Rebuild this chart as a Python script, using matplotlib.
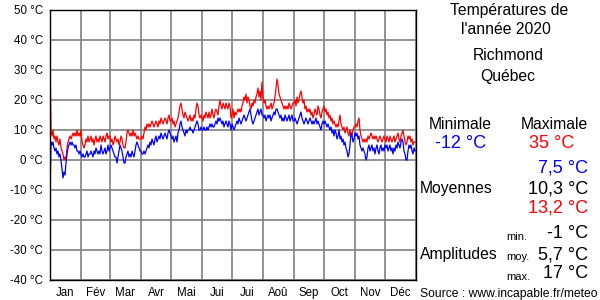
import numpy as np
import matplotlib
matplotlib.use("Agg")
import matplotlib.pyplot as plt

plt.rcParams["font.family"] = ["Liberation Sans", "DejaVu Sans"]

# Daily maximum temperatures (°C), per month
tmax_jan = [35, 10, 8, 10, 7, 8, 6, 8, 6, 5, 7, 4, 3, 2, 0, 1, 0, 4, 6, 7,
            8, 7, 8, 9, 8, 9, 8, 10, 8, 9, 8]
tmax_feb = [10, 6, 5, 4, 5, 7, 6, 8, 6, 7, 8, 6, 7, 5, 7, 8, 6, 7, 6, 8,
            7, 6, 8, 7, 6, 8, 9, 7, 8]
tmax_mar = [8, 6, 7, 5, 6, 8, 7, 6, 7, 5, 6, 8, 7, 5, 4, 4, 6, 9, 10, 9,
            8, 9, 8, 10, 8, 9, 8, 7, 8, 7, 7]
tmax_apr = [7, 8, 7, 9, 11, 10, 12, 11, 12, 11, 12, 13, 12, 11, 12, 13, 12, 11, 13, 12,
            14, 13, 12, 13, 14, 13, 12, 14, 15, 13]
tmax_may = [13, 14, 12, 13, 11, 12, 13, 14, 16, 18, 19, 17, 15, 14, 16, 15, 14, 13, 14, 15,
            13, 14, 13, 15, 14, 17, 19, 18, 15, 14, 15]
tmax_jun = [14, 13, 15, 14, 16, 15, 14, 16, 14, 15, 17, 15, 14, 16, 17, 16, 15, 18, 20, 18,
            17, 19, 18, 17, 19, 18, 17, 19, 18, 14]
tmax_jul = [15, 17, 14, 16, 15, 16, 17, 16, 17, 16, 18, 19, 21, 20, 22, 19, 21, 20, 18, 17,
            19, 18, 20, 19, 21, 22, 24, 21, 23, 20, 26]
tmax_aug = [21, 19, 20, 18, 17, 18, 17, 18, 19, 17, 18, 19, 21, 24, 27, 25, 22, 21, 20, 19,
            18, 17, 18, 17, 18, 17, 19, 18, 17, 18, 19]
tmax_sep = [19, 20, 18, 21, 19, 20, 22, 23, 21, 19, 20, 17, 18, 16, 17, 16, 17, 15, 16, 14,
            15, 17, 16, 15, 18, 17, 15, 14, 16, 17]
tmax_oct = [18, 16, 17, 15, 16, 14, 15, 13, 14, 12, 13, 12, 11, 12, 11, 13, 15, 12, 11, 10,
            11, 9, 10, 11, 9, 8, 10, 9, 8, 10, 11]
tmax_nov = [11, 12, 11, 13, 14, 10, 8, 7, 6, 7, 6, 7, 6, 8, 7, 8, 9, 8, 7, 8,
            7, 8, 7, 6, 7, 8, 7, 6, 7, 8]
tmax_dec = [7, 6, 8, 7, 6, 8, 7, 6, 7, 8, 6, 7, 8, 9, 7, 6, 8, 9, 10, 8,
            6, 5, 6, 8, 7, 8, 6, 7, 5, 6, 6]

# Daily minimum temperatures (°C), per month
tmin_jan = [-12, 6, 5, 6, 4, 3, 4, 2, 3, 1, 2, 0, -3, -6, -4, -5, -1, 2, 4, 5,
            6, 5, 6, 5, 5, 4, 5, 3, 3, 2, 3]
tmin_feb = [2, 1, 2, 1, 1, 2, 3, 1, 2, 2, 3, 2, 1, 3, 2, 4, 3, 2, 3, 2,
            5, 3, 2, 3, 4, 2, 3, 5, 3]
tmin_mar = [4, 5, 4, 3, 2, 1, 1, -1, 1, 3, 5, 4, 3, 1, -1, -1, 1, 2, 3, 1,
            2, 1, 3, 2, 1, 3, 5, 6, 5, 4, 3]
tmin_apr = [3, 2, 2, 3, 2, 3, 4, 5, 4, 6, 5, 7, 6, 5, 7, 8, 6, 7, 8, 7,
            9, 8, 7, 8, 9, 8, 7, 9, 10, 9]
tmin_may = [8, 7, 8, 6, 7, 8, 6, 9, 10, 12, 13, 11, 10, 9, 8, 10, 9, 10, 10, 11,
            10, 10, 9, 10, 11, 12, 13, 12, 10, 10, 11]
tmin_jun = [10, 10, 11, 10, 10, 11, 10, 11, 12, 11, 12, 11, 11, 12, 13, 12, 14, 13, 14, 13,
            12, 13, 11, 12, 13, 12, 11, 13, 12, 10]
tmin_jul = [12, 11, 10, 11, 12, 13, 12, 14, 13, 12, 13, 14, 15, 14, 13, 14, 15, 16, 17, 15,
            13, 12, 13, 14, 15, 16, 17, 15, 16, 17, 15]
tmin_aug = [15, 14, 15, 13, 14, 15, 14, 15, 13, 14, 15, 16, 15, 17, 17, 16, 15, 14, 15, 13,
            14, 13, 15, 14, 13, 14, 15, 13, 14, 15, 13]
tmin_sep = [13, 14, 13, 12, 13, 14, 15, 16, 14, 13, 12, 13, 14, 13, 12, 13, 14, 13, 12, 13,
            12, 13, 14, 12, 13, 12, 11, 10, 12, 13]
tmin_oct = [12, 13, 12, 11, 12, 11, 10, 11, 9, 10, 8, 10, 9, 7, 8, 10, 7, 8, 6, 7,
            5, 6, 4, 3, 1, 2, 5, 9, 8, 6, 7]
tmin_nov = [9, 8, 9, 7, 8, 5, 4, 3, 4, 3, 2, 0, 1, 4, 5, 3, 4, 5, 3, 4,
            2, 4, 5, 3, 2, 4, 5, 3, 4, 3]
tmin_dec = [5, 4, 5, 3, 4, 5, 3, 4, 2, 4, 3, 5, 4, 6, 5, 4, 6, 7, 6, 3,
            2, 0, 0, 3, 5, 4, 5, 3, 2, 4, 3]

months = ["Jan", "Fév", "Mar", "Avr", "Mai", "Jui", "Jui", "Aoû", "Sep", "Oct", "Nov", "Déc"]
y_ticks = [-40, -30, -20, -10, 0, 10, 20, 30, 40, 50]

tmax_months = [tmax_jan, tmax_feb, tmax_mar, tmax_apr, tmax_may, tmax_jun,
               tmax_jul, tmax_aug, tmax_sep, tmax_oct, tmax_nov, tmax_dec]
tmin_months = [tmin_jan, tmin_feb, tmin_mar, tmin_apr, tmin_may, tmin_jun,
               tmin_jul, tmin_aug, tmin_sep, tmin_oct, tmin_nov, tmin_dec]
tmax = np.concatenate(tmax_months)
tmin = np.concatenate(tmin_months)
days = np.arange(len(tmax))

month_len = [len(m) for m in tmax_months]
month_edges = np.concatenate([[0], np.cumsum(month_len)])
month_mid = (month_edges[:-1] + month_edges[1:]) / 2

W, H = 600, 300
fig = plt.figure(figsize=(6, 3), dpi=100)
ax = fig.add_axes([50 / W, 20 / H, 366 / W, 270 / H])

ax.set_xlim(0, month_edges[-1])
ax.set_ylim(-40, 50)
ax.set_yticks(y_ticks)
ax.set_yticklabels([f"{v} °C" for v in y_ticks])
ax.set_xticks(month_edges)
ax.set_xticklabels([])
ax.set_xticks(month_mid, minor=True)
ax.set_xticklabels(months, minor=True)
ax.tick_params(which="both", length=0, labelsize=8.3, pad=5)
ax.grid(True, which="major", color="#808080", linewidth=1.2)
ax.set_axisbelow(True)
for s in ax.spines.values():
    s.set_color("black")
    s.set_linewidth(1.0)

ax.plot(days, tmax, color="#ff0000", linewidth=0.9)
ax.plot(days, tmin, color="#0000ff", linewidth=0.9)


def txt(x, y, s, **kw):
    fig.text(x / W, 1 - y / H, s, va="center", **kw)


txt(509, 11, "Températures de", ha="center", fontsize=11.3)
txt(506, 30, "l'année 2020", ha="center", fontsize=11.3)
txt(508, 56, "Richmond", ha="center", fontsize=11.3)
txt(508, 77, "Québec", ha="center", fontsize=11.3)

txt(460, 124.5, "Minimale", ha="center", fontsize=11.3)
txt(554, 124.5, "Maximale", ha="center", fontsize=11.3)
txt(461, 144, "-12 °C", ha="center", fontsize=13, color="#0000ff")
txt(552, 144, "35 °C", ha="center", fontsize=13, color="#ff0000")

txt(588, 168, "7,5 °C", ha="right", fontsize=13, color="#0000ff")
txt(420, 189, "Moyennes", ha="left", fontsize=11.3)
txt(588, 189, "10,3 °C", ha="right", fontsize=13)
txt(588, 208, "13,2 °C", ha="right", fontsize=13, color="#ff0000")

txt(506, 237, "min.", ha="left", fontsize=8)
txt(588, 234, "-1 °C", ha="right", fontsize=13)
txt(420, 255, "Amplitudes", ha="left", fontsize=11.3)
txt(506, 257, "moy.", ha="left", fontsize=8)
txt(588, 254.5, "5,7 °C", ha="right", fontsize=13)
txt(506, 277, "max.", ha="left", fontsize=8)
txt(588, 274, "17 °C", ha="right", fontsize=13)

txt(420, 294, "Source : www.incapable.fr/meteo", ha="left", fontsize=8.7)

fig.savefig("out.png", dpi=100)
